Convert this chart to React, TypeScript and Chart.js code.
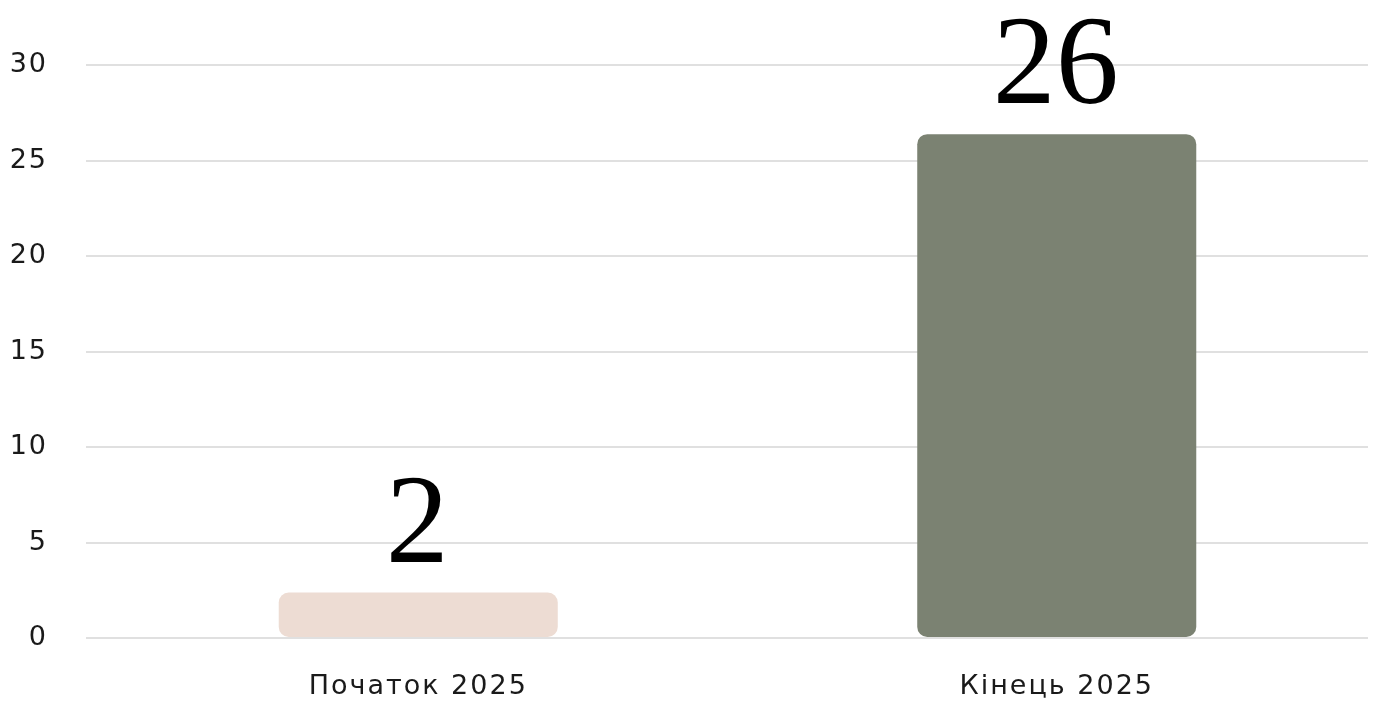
import { useEffect, useRef } from "react";
import { Chart, registerables } from "chart.js";

Chart.register(...registerables);

const categories = ["Початок 2025", "Кінець 2025"];
const values = [2, 26];
const barColors = ["#eddcd3", "#7b8272"];
const yMin = 0;
const yMax = 30;
const yStep = 5;

// visual cap: bars in the reference rise slightly above their value line
const BAR_CAP = 0.38;

const spacing = {
  id: "spacing",
  beforeDraw(chart: any) {
    chart.ctx.letterSpacing = "2px";
  },
};

const valueLabels = {
  id: "valueLabels",
  afterDatasetsDraw(chart: any) {
    const ctx = chart.ctx;
    const meta = chart.getDatasetMeta(0);
    ctx.save();
    ctx.letterSpacing = "0px";
    ctx.font = "126px 'Liberation Serif'";
    ctx.fillStyle = "#000000";
    ctx.textAlign = "center";
    ctx.textBaseline = "alphabetic";
    meta.data.forEach((el: any, i: number) => {
      ctx.fillText(String(values[i]), el.x - 1, el.y - 31);
    });
    ctx.restore();
  },
};

export default function App() {
  const ref = useRef<HTMLCanvasElement | null>(null);
  useEffect(() => {
    if (!ref.current) return;
    const chart = new Chart(ref.current, {
      type: "bar",
      data: {
        labels: categories,
        datasets: [
          {
            data: values.map((v) => [0, v + BAR_CAP]) as any,
            backgroundColor: barColors,
            borderRadius: 10,
            borderSkipped: false,
            barPercentage: 0.437,
            categoryPercentage: 1,
          },
        ],
      },
      options: {
        animation: false,
        responsive: true,
        maintainAspectRatio: false,
        layout: { padding: { top: 65, right: 8, left: 0, bottom: 0 } },
        plugins: { legend: { display: false }, tooltip: { enabled: false } },
        scales: {
          x: {
            grid: { display: false, drawTicks: false },
            border: { display: false },
            ticks: {
              color: "#1a1a1a",
              font: { family: "'DejaVu Sans'", size: 27 },
              padding: 33,
            },
            afterFit: (s: any) => {
              s.height = 64;
            },
          },
          y: {
            min: yMin,
            max: yMax,
            grid: {
              color: "#e0e0e0",
              lineWidth: 2,
              drawTicks: true,
              tickLength: 13,
              tickColor: "#e0e0e0",
            },
            border: { display: false },
            ticks: {
              stepSize: yStep,
              color: "#1a1a1a",
              font: { family: "'DejaVu Sans'", size: 27 },
              padding: 38,
            },
            afterFit: (s: any) => {
              s.width = 99;
            },
          },
        },
      },
      plugins: [spacing, valueLabels],
    });
    return () => chart.destroy();
  }, []);
  return (
    <div style={{ position: "fixed", left: 0, top: 0, width: 1368, height: 702, overflow: "hidden", background: "#fff" }}>
      <div style={{ position: "relative", width: 1384, height: 702 }}>
        <canvas ref={ref} />
      </div>
    </div>
  );
}
